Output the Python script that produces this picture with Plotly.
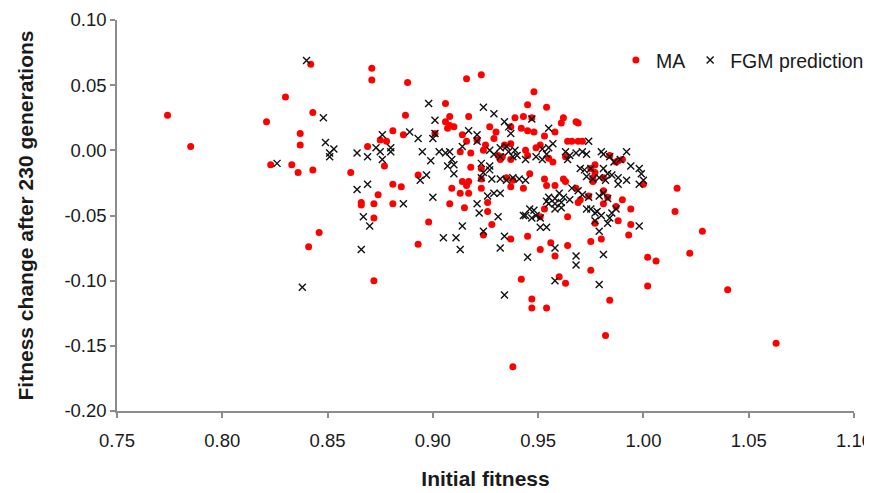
import plotly.graph_objects as go

# MA (mutation accumulation) observed points: initial fitness, fitness change
ma_x = [0.774, 0.785, 0.842, 0.871, 0.871, 0.888, 0.830, 0.843, 0.821, 0.887,
        0.837, 0.881, 0.886, 0.837, 0.875, 0.878, 0.869, 0.877, 0.823, 0.833,
        0.836, 0.843, 0.861, 0.893, 0.881, 0.885, 0.874, 0.866, 0.866, 0.872,
        0.881, 0.872, 0.898, 0.846, 0.841, 0.893, 0.872,
        0.916, 0.923, 0.948, 0.906, 0.908, 0.917, 0.906, 0.908, 0.910, 0.907,
        0.945, 0.954, 0.939, 0.943, 0.927, 0.930, 0.962, 0.961, 0.968, 0.969,
        0.942, 0.945, 0.948, 0.953, 0.958, 0.901, 0.914, 0.916, 0.921, 0.929,
        0.925, 0.924, 0.913, 0.918, 0.937, 0.944, 0.945, 0.949, 0.951, 0.964,
        0.966, 0.969, 0.971, 0.931, 0.932, 0.933, 0.937, 0.955, 0.957, 0.963,
        0.984, 0.987, 0.988, 0.990, 0.918, 0.923, 0.975, 0.976, 0.977, 0.923,
        0.914, 0.917, 0.916, 0.913, 0.917, 0.909, 0.923, 0.935, 0.938, 0.937,
        0.943, 0.953, 0.954, 0.958, 0.962, 0.963, 0.968, 0.970, 0.974, 0.981,
        0.983, 0.990, 0.987, 0.994, 1.000, 1.016, 1.015, 0.908, 0.915, 0.926,
        0.926, 0.928, 0.924, 0.953, 0.964, 0.951, 0.988, 0.994, 0.993, 0.977,
        0.945, 0.937, 0.951, 0.956, 0.964, 0.975, 0.980, 0.958, 1.002, 1.006,
        0.969, 0.981, 1.028, 1.022, 1.002, 1.040, 0.975, 0.960, 0.963, 0.942,
        0.947, 0.947, 0.954, 0.984, 0.982, 1.063, 0.938,
        0.947, 0.937, 0.934, 0.977, 0.946, 0.981, 0.976]
ma_y = [0.027, 0.003, 0.066, 0.063, 0.054, 0.052, 0.041, 0.029, 0.022, 0.027,
        0.013, 0.015, 0.012, 0.004, 0.008, 0.007, 0.003, -0.012, -0.011, -0.011,
        -0.017, -0.015, -0.017, -0.019, -0.026, -0.028, -0.034, -0.040, -0.042, -0.041,
        -0.041, -0.052, -0.055, -0.063, -0.074, -0.072, -0.100,
        0.055, 0.058, 0.045, 0.036, 0.026, 0.026, 0.022, 0.019, 0.018, 0.017,
        0.035, 0.033, 0.025, 0.026, 0.018, 0.014, 0.025, 0.021, 0.022, 0.021,
        0.017, 0.015, 0.014, 0.011, 0.014, 0.013, 0.012, 0.007, 0.008, 0.009,
        0.004, 0.000, -0.001, -0.002, 0.005, 0.000, -0.004, 0.002, 0.004, 0.007,
        0.007, 0.007, 0.007, -0.004, -0.007, -0.005, -0.007, -0.006, -0.009, -0.005,
        -0.004, -0.009, -0.008, -0.007, -0.013, -0.014, -0.014, -0.021, -0.017, -0.022,
        -0.024, -0.024, -0.027, -0.033, -0.033, -0.029, -0.029, -0.021, -0.023, -0.028,
        -0.029, -0.022, -0.027, -0.027, -0.022, -0.024, -0.029, -0.038, -0.035, -0.031,
        -0.036, -0.038, -0.043, -0.045, -0.026, -0.029, -0.047, -0.041, -0.044, -0.040,
        -0.047, -0.057, -0.065, -0.045, -0.051, -0.051, -0.054, -0.057, -0.065, -0.056,
        -0.066, -0.068, -0.076, -0.071, -0.073, -0.070, -0.068, -0.081, -0.082, -0.085,
        -0.040, -0.041, -0.062, -0.079, -0.104, -0.107, -0.092, -0.097, -0.102, -0.099,
        -0.114, -0.121, -0.121, -0.115, -0.142, -0.148, -0.166,
        0.025, 0.018, 0.004, -0.011, -0.018, -0.021, -0.024]

# FGM (Fisher's geometric model) predictions
fgm_x = [0.840, 0.848, 0.898, 0.849, 0.851, 0.853, 0.851, 0.826, 0.864, 0.869,
         0.876, 0.873, 0.875, 0.880, 0.880, 0.876, 0.889, 0.893, 0.895, 0.897,
         0.894, 0.864, 0.869, 0.886, 0.867, 0.870, 0.866, 0.838,
         0.901, 0.900, 0.901, 0.899, 0.903, 0.906, 0.908, 0.909, 0.910, 0.907,
         0.910, 0.900, 0.917, 0.921, 0.921, 0.924, 0.929, 0.914, 0.927, 0.929,
         0.934, 0.936, 0.937, 0.932, 0.935, 0.936, 0.939, 0.932, 0.938, 0.940,
         0.947, 0.955, 0.957, 0.955, 0.952, 0.954, 0.952, 0.949, 0.944, 0.963,
         0.965, 0.964, 0.968, 0.971, 0.973, 0.974, 0.980, 0.981, 0.984, 0.986,
         0.989, 0.992, 0.923, 0.927, 0.924, 0.927, 0.923, 0.928, 0.932, 0.935,
         0.938, 0.941, 0.944, 0.929, 0.932, 0.926, 0.970, 0.972, 0.975, 0.973,
         0.976, 0.979, 0.981, 0.983, 0.985, 0.982, 0.988, 0.992, 0.998, 0.999,
         1.000, 0.966, 0.969, 0.971, 0.960, 0.962, 0.965, 0.958, 0.961, 0.958,
         0.955, 0.954, 0.946, 0.948, 0.949, 0.944, 0.947, 0.975, 0.978, 0.980,
         0.984, 0.985, 0.983, 0.974, 0.979, 0.981, 0.983, 0.921, 0.922,
         0.914, 0.905, 0.911, 0.913, 0.924, 0.931, 0.934, 0.932, 0.943, 0.951,
         0.951, 0.954, 0.945, 0.958, 0.958, 0.968, 0.968, 0.981, 0.979, 0.934,
         0.955, 0.958, 0.961, 0.973, 0.977, 0.977, 0.979, 0.987, 0.998,
         0.994, 0.998, 0.988]
fgm_y = [0.069, 0.025, 0.036, 0.006, -0.002, 0.001, -0.005, -0.010, -0.002, -0.005,
         0.012, 0.002, -0.001, 0.002, -0.001, -0.007, 0.014, 0.009, -0.001, -0.019,
         -0.023, -0.030, -0.026, -0.041, -0.051, -0.058, -0.076, -0.105,
         0.023, 0.009, 0.013, -0.008, -0.001, -0.002, -0.001, -0.007, -0.011, -0.012,
         -0.018, -0.036, 0.015, 0.012, 0.007, 0.033, 0.028, 0.003, 0.000, -0.003,
         0.022, 0.018, 0.013, 0.002, 0.003, -0.001, 0.000, -0.005, -0.005, -0.004,
         0.024, 0.017, 0.005, 0.002, 0.001, -0.003, -0.007, -0.005, -0.007, -0.001,
         -0.004, -0.007, -0.002, -0.001, -0.003, 0.007, -0.001, -0.003, -0.005, -0.009,
         -0.007, -0.001, -0.010, -0.012, -0.017, -0.015, -0.021, -0.022, -0.022, -0.023,
         -0.021, -0.022, -0.023, -0.033, -0.033, -0.035, -0.014, -0.015, -0.014, -0.020,
         -0.022, -0.021, -0.014, -0.018, -0.019, -0.023, -0.021, -0.023, -0.014, -0.018,
         -0.023, -0.029, -0.031, -0.034, -0.033, -0.036, -0.038, -0.037, -0.040, -0.045,
         -0.036, -0.039, -0.045, -0.046, -0.050, -0.050, -0.052, -0.045, -0.047, -0.050,
         -0.052, -0.048, -0.056, -0.036, -0.035, -0.033, -0.037, -0.041, -0.048,
         -0.058, -0.067, -0.067, -0.076, -0.062, -0.051, -0.066, -0.075, -0.050, -0.052,
         -0.059, -0.059, -0.082, -0.075, -0.100, -0.081, -0.088, -0.080, -0.103, -0.111,
         -0.041, -0.041, -0.044, -0.045, -0.048, -0.054, -0.062, -0.045, -0.058,
         -0.012, -0.026, -0.026]

x_ticks = [0.75, 0.80, 0.85, 0.90, 0.95, 1.00, 1.05, 1.10]
x_tick_text = ["0.75", "0.80", "0.85", "0.90", "0.95", "1.00", "1.05", "1.10"]
y_ticks = [0.10, 0.05, 0.00, -0.05, -0.10, -0.15, -0.20]
y_tick_text = ["0.10", "0.05", "0.00", "-0.05", "-0.10", "-0.15", "-0.20"]

FONT = "Liberation Sans, Arial, sans-serif"
AXIS_GREY = "#8c8c8c"
TEXT = "#1a1a1a"

fig = go.Figure()
fig.add_trace(go.Scatter(
    x=ma_x, y=ma_y, mode="markers", name="MA",
    marker=dict(symbol="circle", size=7, color="#ff0000", line=dict(width=0)),
))
fig.add_trace(go.Scatter(
    x=fgm_x, y=fgm_y, mode="markers", name="FGM prediction",
    marker=dict(symbol="x-thin", size=7, color="#111111",
                line=dict(width=1.4, color="#111111")),
))

# page body has an 8px default margin, so margins are reduced by 8 on left/top
fig.update_layout(
    width=872, height=493,
    margin=dict(l=109, r=25, t=12, b=90),
    paper_bgcolor="white", plot_bgcolor="white",
    font=dict(family=FONT, size=18.5, color=TEXT),
    showlegend=True,
    legend=dict(orientation="h", x=0.676, y=0.897, xanchor="left", yanchor="middle",
                font=dict(family=FONT, size=19.5, color=TEXT),
                bgcolor="rgba(0,0,0,0)", itemwidth=30, tracegroupgap=0),
    xaxis=dict(range=[0.75, 1.10], tickvals=x_ticks, ticktext=x_tick_text,
               automargin=False, ticklabeloverflow="allow",
               showgrid=False, zeroline=False, showline=True,
               linecolor=AXIS_GREY, linewidth=1.5,
               ticks="outside", ticklen=5, tickwidth=1.5, tickcolor=AXIS_GREY,
               ticklabelstandoff=7,
               tickfont=dict(family=FONT, size=18.5, color=TEXT),
               title=dict(text="<b>Initial fitness</b>", standoff=21,
                          font=dict(family=FONT, size=21, color=TEXT))),
    yaxis=dict(range=[-0.20, 0.10], tickvals=y_ticks, ticktext=y_tick_text,
               automargin=False, ticklabeloverflow="allow",
               showgrid=False, zeroline=False, showline=True,
               linecolor=AXIS_GREY, linewidth=1.5,
               ticks="outside", ticklen=5, tickwidth=1.5, tickcolor=AXIS_GREY,
               tickfont=dict(family=FONT, size=18.5, color=TEXT),
               title=dict(text="<b>Fitness change after 230 generations</b>", standoff=25,
                          font=dict(family=FONT, size=21, color=TEXT))),
)

fig.write_html("out.html")
